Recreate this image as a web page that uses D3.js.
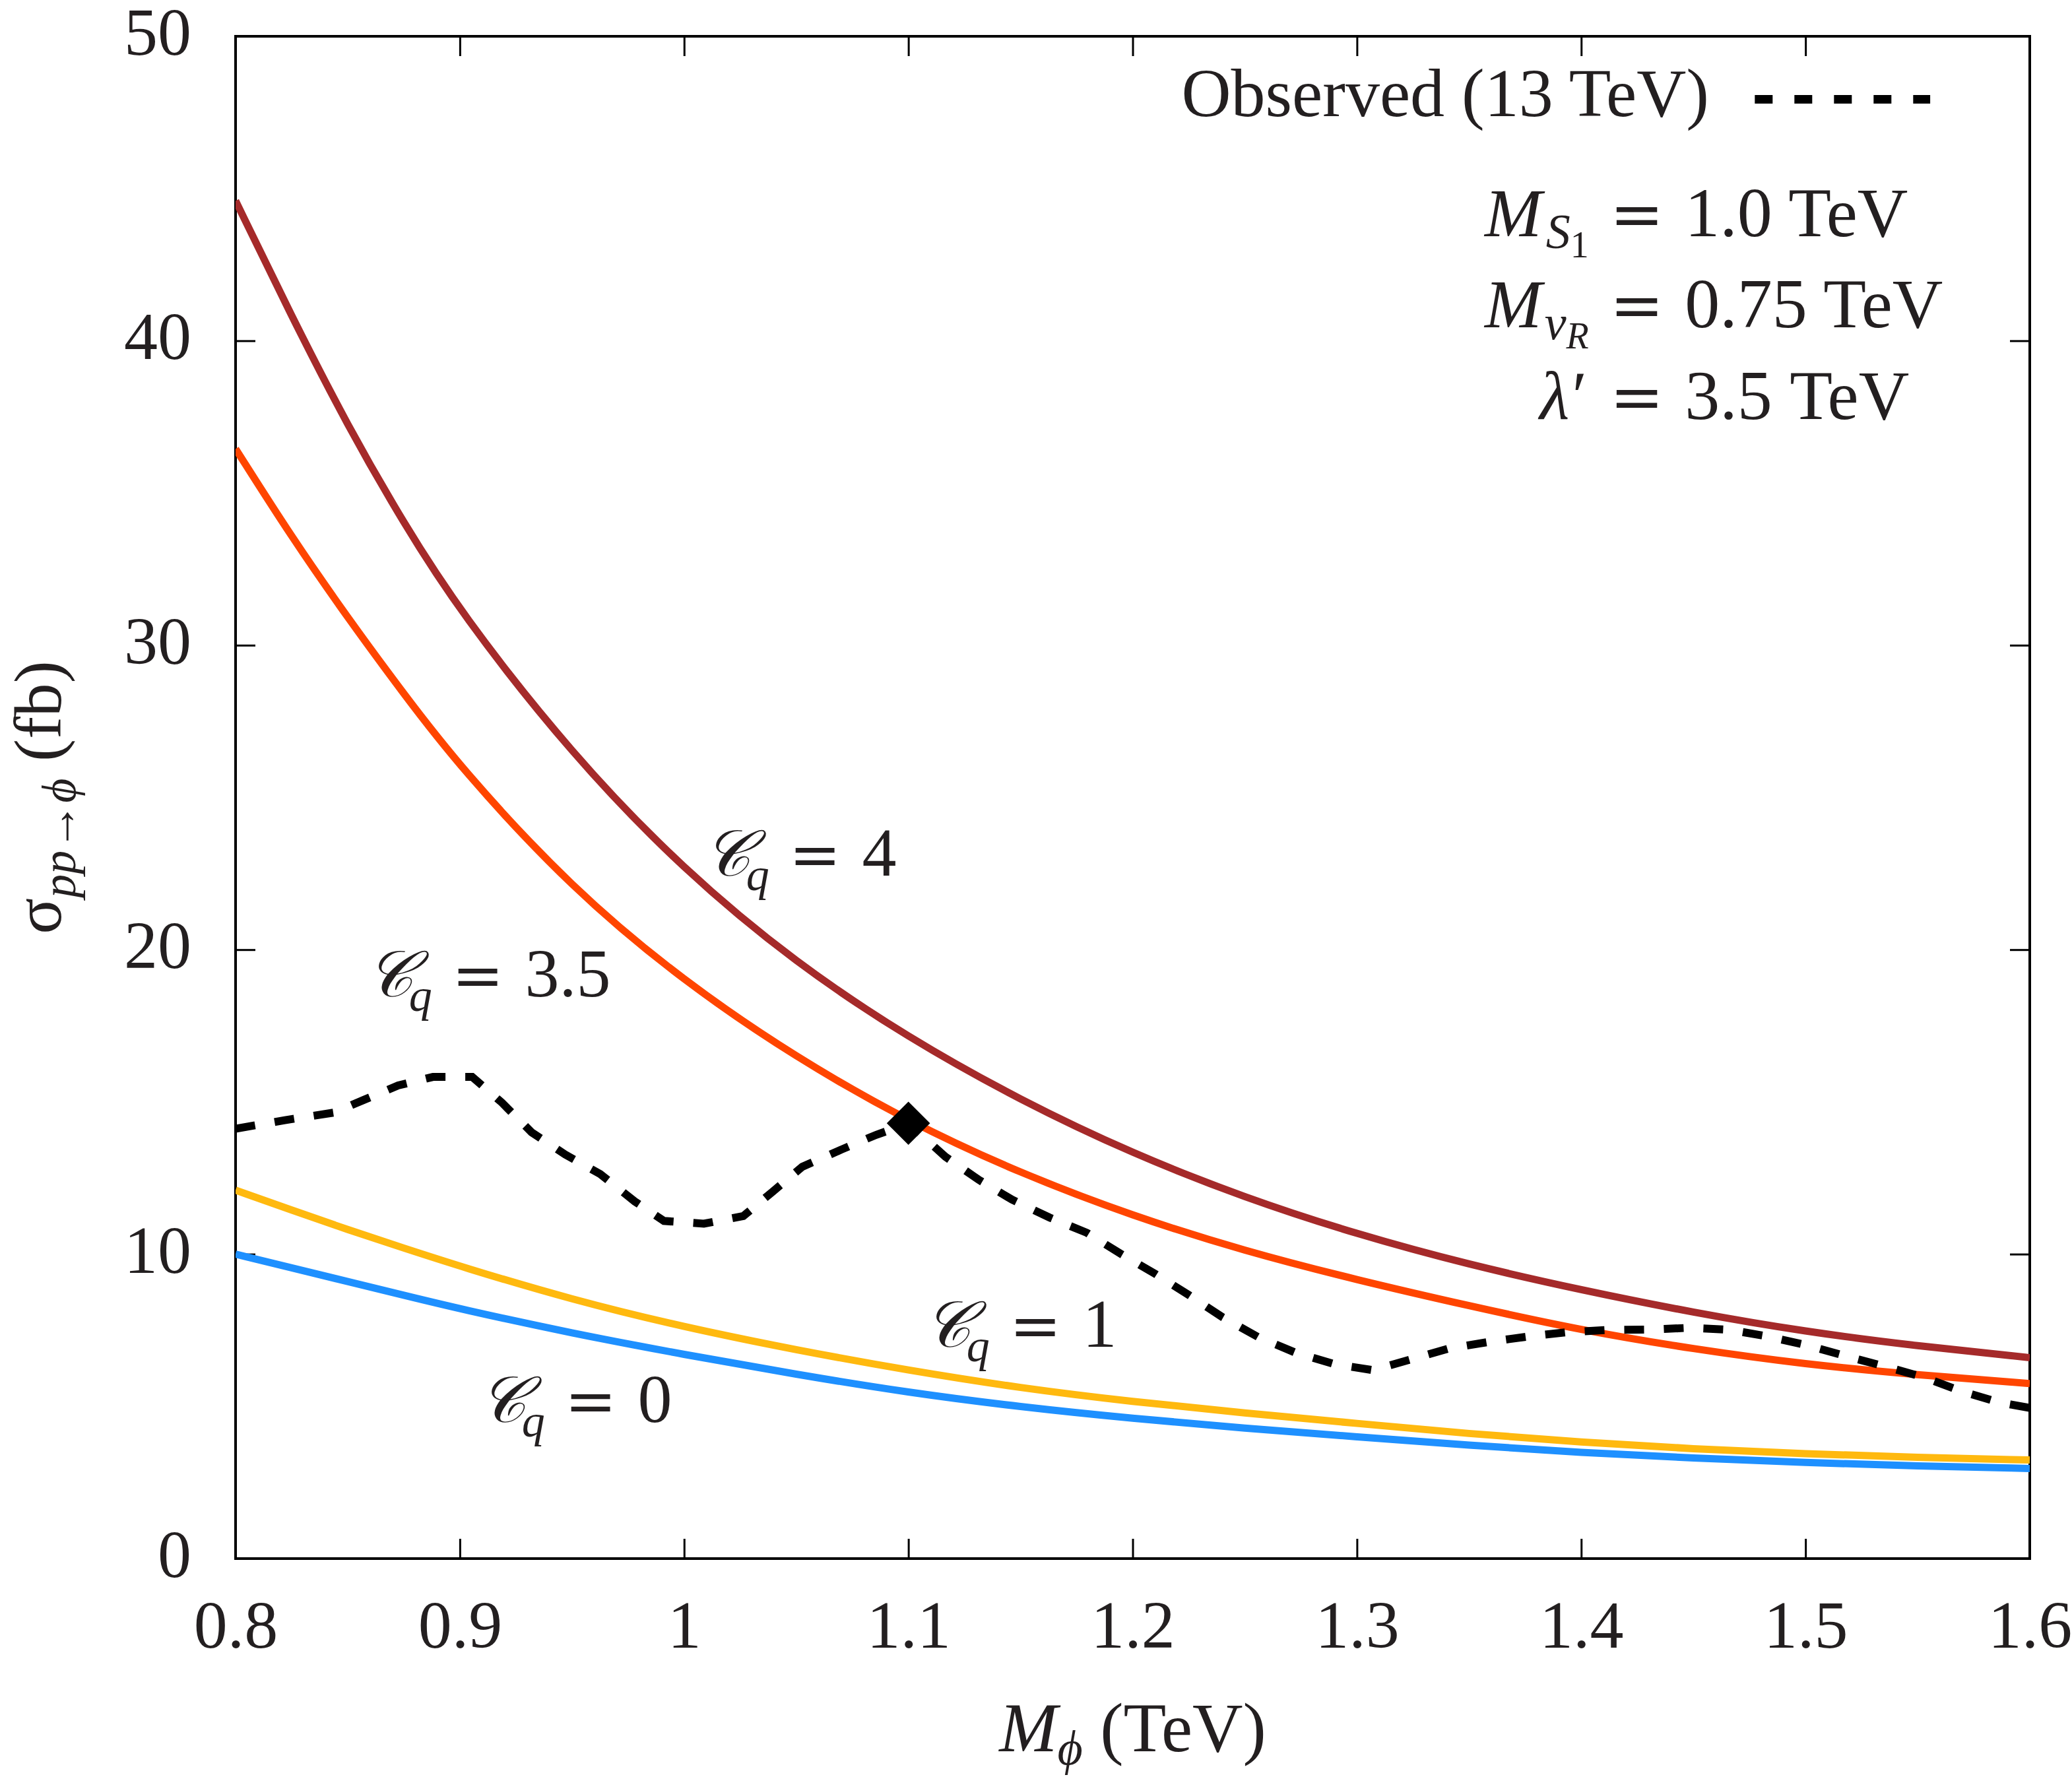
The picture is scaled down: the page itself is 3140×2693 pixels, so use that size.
<!DOCTYPE html>
<html><head><meta charset="utf-8">
<script src="https://cdn.jsdelivr.net/npm/d3@7"></script>
<style>
body{margin:0;background:#fff}
svg{display:block}
text{font-family:"Liberation Serif","Times New Roman",serif;fill:#231f20}
</style>
</head><body>
<svg id="chart" width="3140" height="2693"></svg>
<script>
// ---------- data ----------
const massGrid  = [0.8,0.825,0.85,0.875,0.9,0.95,1.0,1.05,1.1,1.15,1.2,1.25,1.3,1.35,1.4,1.45,1.5,1.55,1.6];
const sigmaCq4  = [44.6,40.8,37.2,34.0,31.1,26.4,22.6,19.55,17.1,15.05,13.3,11.85,10.65,9.65,8.82,8.08,7.45,6.98,6.6];
const sigmaCq35 = [36.45,33.55,30.9,28.4,26.0,22.0,18.95,16.45,14.35,12.65,11.25,10.1,9.15,8.3,7.5,6.88,6.38,6.03,5.75];
const sigmaCq1  = [12.1,11.45,10.8,10.2,9.6,8.5,7.6,6.85,6.18,5.6,5.15,4.78,4.44,4.1,3.82,3.6,3.44,3.32,3.24];
const sigmaCq0  = [10.0,9.55,9.1,8.65,8.2,7.4,6.7,6.05,5.45,4.98,4.6,4.28,4.0,3.72,3.48,3.3,3.15,3.04,2.96];

const obsMass  = [0.8,0.822,0.844,0.857,0.8725,0.888,0.9055,0.9187,0.932,0.947,0.9626,0.978,0.991,1.0088,1.0264,1.0396,1.0527,1.0703,1.0857,1.1,1.1165,1.1312,1.1462,1.163,1.1796,1.1947,1.2101,1.2252,1.24,1.2561,1.2724,1.2897,1.3071,1.3244,1.341,1.3591,1.377,1.3944,1.4122,1.43,1.448,1.4657,1.483,1.501,1.518,1.5356,1.5525,1.5694,1.5863,1.6];
const obsSigma = [14.12,14.4,14.65,15.06,15.54,15.82,15.82,14.98,14.0,13.27,12.63,11.73,11.09,11.0,11.25,12.06,12.87,13.44,13.92,14.29,13.2,12.45,11.79,11.2,10.7,10.01,9.35,8.65,7.93,7.27,6.77,6.39,6.19,6.55,6.9,7.12,7.3,7.44,7.51,7.52,7.58,7.52,7.3,7.0,6.65,6.31,5.96,5.5,5.13,4.95];

const markerMass  = [1.1];
const markerSigma = [14.3];

const xTicks = [0.8,0.9,1.0,1.1,1.2,1.3,1.4,1.5,1.6];
const xTickLabels = ["0.8","0.9","1","1.1","1.2","1.3","1.4","1.5","1.6"];
const yTicks = [0,10,20,30,40,50];

const seriesNames  = ["4","3.5","1","0"];
const seriesValues = [sigmaCq4, sigmaCq35, sigmaCq1, sigmaCq0];
const seriesColors = ["#a52a2a","#ff4500","#ffb90f","#1e90ff"];
// label anchors (data coordinates of text start / baseline)
const labelMass  = [1.0085, 0.8582, 1.1068, 0.9085];
const labelSigma = [22.43, 18.46, 6.96, 4.49];

// parameter box text
const paramValues = ["1.0 TeV","0.75 TeV","3.5 TeV"];

// ---------- layout ----------
const svg = d3.select("#chart");
const L = 357, R = 3076, T = 55, B = 2362;
const x = d3.scaleLinear().domain([0.8,1.6]).range([L,R]);
const y = d3.scaleLinear().domain([0,50]).range([B,T]);

const tickFont = "102px";

// axes (ticks inward on all four sides)
const gB = svg.append("g").attr("transform",`translate(0,${B})`)
  .call(d3.axisBottom(x).tickValues(xTicks).tickSize(-30).tickSizeOuter(0).tickPadding(63)
        .tickFormat((d,i)=>xTickLabels[i]));
const gT = svg.append("g").attr("transform",`translate(0,${T})`)
  .call(d3.axisTop(x).tickValues(xTicks).tickSize(-30).tickSizeOuter(0).tickFormat(""));
const gL = svg.append("g").attr("transform",`translate(${L},0)`)
  .call(d3.axisLeft(y).tickValues(yTicks).tickSize(-30).tickSizeOuter(0).tickPadding(67).tickFormat(d3.format("d")));
const gR = svg.append("g").attr("transform",`translate(${R},0)`)
  .call(d3.axisRight(y).tickValues(yTicks).tickSize(-30).tickSizeOuter(0).tickFormat(""));
[gB,gT,gL,gR].forEach(g=>{
  g.select(".domain").remove();
  g.selectAll(".tick line").attr("stroke","#000").attr("stroke-width",3);
  g.selectAll(".tick text").style("font-size",tickFont).style("font-family","Liberation Serif").attr("fill","#231f20");
});
gL.selectAll(".tick text").attr("dy","0.27em");

// frame
svg.append("rect").attr("x",L).attr("y",T).attr("width",R-L).attr("height",B-T)
  .attr("fill","none").attr("stroke","#000").attr("stroke-width",4);

// clip
svg.append("clipPath").attr("id","clip").append("rect")
  .attr("x",L).attr("y",T).attr("width",R-L).attr("height",B-T);
const plot = svg.append("g").attr("clip-path","url(#clip)");

const line = d3.line().x(d=>x(d[0])).y(d=>y(d[1])).curve(d3.curveBasis);
seriesValues.forEach((vals,i)=>{
  plot.append("path")
    .datum(massGrid.map((m,j)=>[m,vals[j]]))
    .attr("d",line).attr("fill","none")
    .attr("stroke",seriesColors[i]).attr("stroke-width",11).attr("stroke-linejoin","round");
});

// observed dashed
const lineLin = d3.line().x(d=>x(d[0])).y(d=>y(d[1]));
plot.append("path")
  .datum(obsMass.map((m,j)=>[m,obsSigma[j]]))
  .attr("d",lineLin).attr("fill","none")
  .attr("stroke","#000").attr("stroke-width",12).attr("stroke-dasharray","30,30");

// diamond marker
svg.selectAll(".marker").data(markerMass.map((m,i)=>[m,markerSigma[i]])).enter()
  .append("path").attr("class","marker")
  .attr("d",d3.symbol(d3.symbolSquare,2150)())
  .attr("transform",d=>`translate(${x(d[0])},${y(d[1])}) rotate(45)`)
  .attr("fill","#000");

// curve labels
seriesNames.forEach((name,i)=>{
  const t = svg.append("text").attr("x",x(labelMass[i])).attr("y",y(labelSigma[i])).style("font-size","98px");
  t.append("tspan").text("𝒞").style("font-style","italic");
  t.append("tspan").text("q").style("font-style","italic").style("font-size","70px").attr("dx",-6).attr("dy",22);
  t.append("tspan").text("=").style("font-family","DejaVu Serif").style("font-size","94px").attr("dx",30).attr("dy",-22);
  t.append("tspan").text(name).style("font-size","104px").attr("dx",32);
});

// legend
svg.append("text").attr("x",x(1.457)).attr("y",y(47.37)).attr("text-anchor","end")
  .style("font-size","104px").text("Observed (13 TeV)");
svg.append("line").attr("x1",x(1.4774)).attr("x2",x(1.5556)).attr("y1",y(47.93)).attr("y2",y(47.93))
  .attr("stroke","#000").attr("stroke-width",13).attr("stroke-dasharray","27,33");

// parameter annotations: symbol part, "=" column, value column
const eqX = x(1.4127), valX = x(1.4462);
function paramLine(startMass, baseSigma, build, value){
  const t = svg.append("text").attr("x",x(startMass)).attr("y",y(baseSigma)).style("font-size","104px");
  build(t);
  t.append("tspan").attr("x",eqX).attr("y",y(baseSigma)).text("=").style("font-family","DejaVu Serif").style("font-size","98px");
  t.append("tspan").attr("x",valX).attr("y",y(baseSigma)).text(value).style("font-size","106px");
}
paramLine(1.357, 43.44, t=>{
  t.append("tspan").text("M").style("font-style","italic");
  t.append("tspan").text("S").style("font-style","italic").style("font-size","74px").attr("dx",6).attr("dy",18);
  t.append("tspan").text("1").style("font-size","56px").attr("dy",14);
}, paramValues[0]);
paramLine(1.357, 40.45, t=>{
  t.append("tspan").text("M").style("font-style","italic");
  t.append("tspan").text("ν").style("font-style","italic").style("font-size","74px").attr("dx",4).attr("dy",18);
  t.append("tspan").text("R").style("font-style","italic").style("font-size","56px").attr("dy",14);
}, paramValues[1]);
paramLine(1.3815, 37.44, t=>{
  t.append("tspan").text("λ").style("font-style","italic");
  t.append("tspan").text("′").attr("dx",4);
}, paramValues[2]);

// axis titles
const xt = svg.append("text").attr("x",(L+R)/2).attr("y",2654).attr("text-anchor","middle").style("font-size","106px");
xt.append("tspan").text("M").style("font-style","italic");
xt.append("tspan").text("ϕ").style("font-style","italic").style("font-size","74px").attr("dy",20);
xt.append("tspan").text(" (TeV)").attr("dy",-20);

const yt = svg.append("text").attr("transform",`translate(92,${(T+B)/2}) rotate(-90)`)
  .attr("text-anchor","middle").style("font-size","102px");
yt.append("tspan").text("σ");
yt.append("tspan").text("pp→ϕ").style("font-style","italic").style("font-size","72px").attr("dy",22);
yt.append("tspan").text(" (fb)").attr("dy",-22);
</script>
</body></html>
